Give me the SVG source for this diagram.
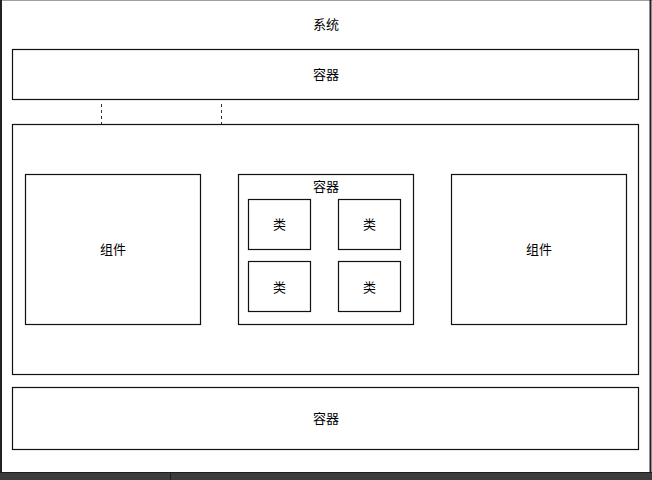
<svg xmlns="http://www.w3.org/2000/svg" width="652" height="480" viewBox="0 0 652 480">
  <style>
    .box { fill: #ffffff; stroke: #111111; stroke-width: 1.2; }
    .lbl { font-family: "Noto Sans CJK SC", "Liberation Sans", sans-serif; font-size: 13px; fill: #000000; text-anchor: middle; dominant-baseline: central; }
    .dash { stroke: #333333; stroke-width: 1; stroke-dasharray: 3 3; fill: none; }
  </style>

  <!-- window background and frame -->
  <rect x="0" y="0" width="652" height="480" fill="#ffffff"/>
  <line x1="0" y1="0.5" x2="652" y2="0.5" stroke="#a0a0a0"/>
  <line x1="1" y1="0" x2="1" y2="474" stroke="#222222" stroke-width="2"/>
  <line x1="650.5" y1="0" x2="650.5" y2="474" stroke="#222222" stroke-width="2"/>
  <rect x="0" y="472" width="652" height="8" fill="#3c3c3c"/>
  <line x1="0" y1="472.5" x2="652" y2="472.5" stroke="#1e1e1e"/>
  <line x1="170.5" y1="473" x2="170.5" y2="480" stroke="#1e1e1e"/>

  <text class="lbl" x="326" y="23">系统</text>

  <g id="connectors">
    <line class="dash" x1="101.5" y1="104" x2="101.5" y2="124"/>
    <line class="dash" x1="221.5" y1="104" x2="221.5" y2="124"/>
  </g>

  <g id="container-top">
    <rect class="box" x="12.5" y="49.5" width="626" height="50"/>
    <text class="lbl" x="326" y="73">容器</text>
  </g>

  <g id="system-body">
    <rect class="box" x="12.5" y="124.5" width="626" height="250"/>
  </g>

  <g id="component-left">
    <rect class="box" x="25.5" y="174.5" width="175" height="150"/>
    <text class="lbl" x="113" y="248">组件</text>
  </g>

  <g id="container-mid">
    <rect class="box" x="238.5" y="174.5" width="175" height="150"/>
    <text class="lbl" x="326" y="185">容器</text>
  </g>

  <g id="class-1">
    <rect class="box" x="248.5" y="199.5" width="62" height="50"/>
    <text class="lbl" x="279.5" y="223">类</text>
  </g>
  <g id="class-2">
    <rect class="box" x="338.5" y="199.5" width="62" height="50"/>
    <text class="lbl" x="369.5" y="223">类</text>
  </g>
  <g id="class-3">
    <rect class="box" x="248.5" y="261.5" width="62" height="50"/>
    <text class="lbl" x="279.5" y="286">类</text>
  </g>
  <g id="class-4">
    <rect class="box" x="338.5" y="261.5" width="62" height="50"/>
    <text class="lbl" x="369.5" y="286">类</text>
  </g>

  <g id="component-right">
    <rect class="box" x="451.5" y="174.5" width="175" height="150"/>
    <text class="lbl" x="539" y="248">组件</text>
  </g>

  <g id="container-bottom">
    <rect class="box" x="12.5" y="387.5" width="626" height="62"/>
    <text class="lbl" x="326" y="417">容器</text>
  </g>
</svg>
